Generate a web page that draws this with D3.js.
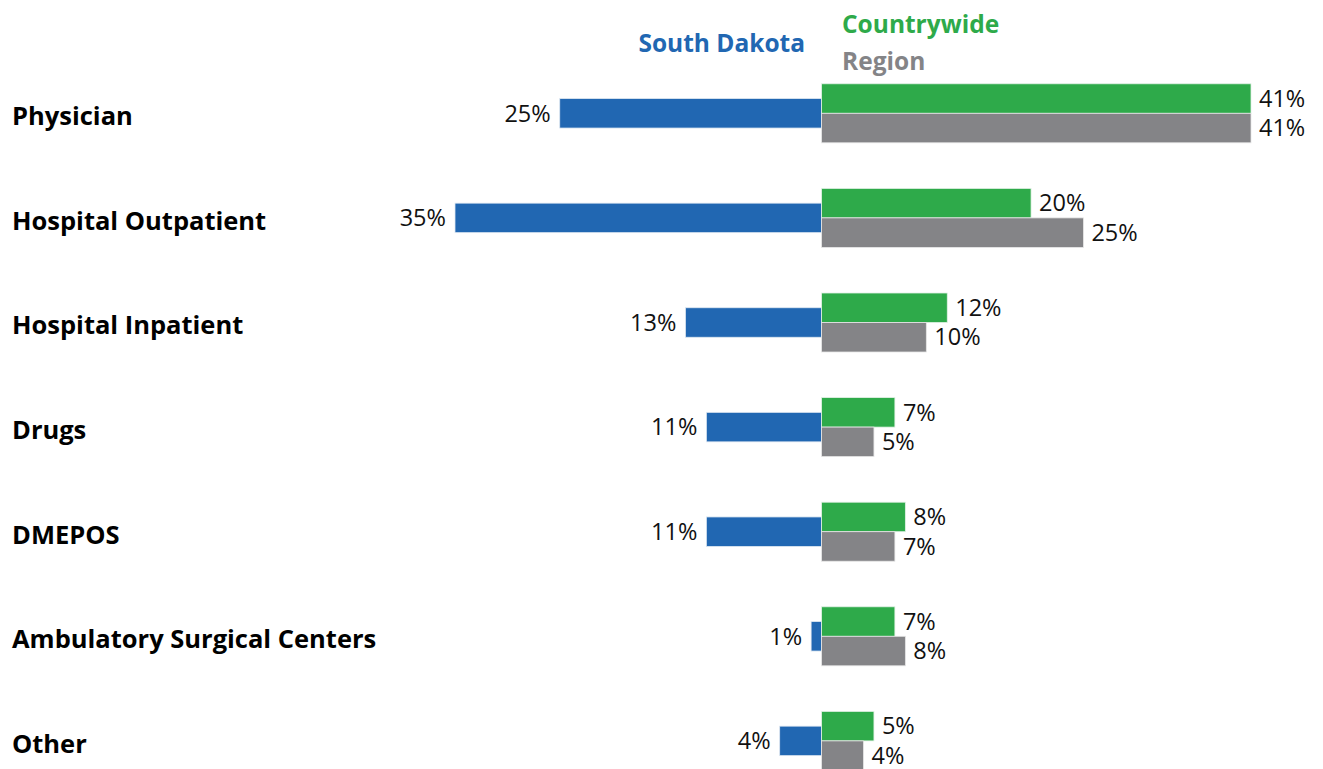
<html>
<head>
<script src="https://d3js.org/d3.v7.min.js"></script>
<style>
  body { margin: 0; background: #fff; }
  text { font-family: "Open Sans", Lato, sans-serif; }
</style>
</head>
<body>
<script>
const categories = ['Physician', 'Hospital Outpatient', 'Hospital Inpatient', 'Drugs', 'DMEPOS', 'Ambulatory Surgical Centers', 'Other'];
const southDakota = [25, 35, 13, 11, 11, 1, 4];
const countrywide = [41, 20, 12, 7, 8, 7, 5];
const region = [41, 25, 10, 5, 7, 8, 4];

const w = 1323, h = 769;
const blue = '#2167b2', green = '#2eaa4a', gray = '#848487';

const svg = d3.select('body').append('svg')
  .attr('width', w)
  .attr('height', h);

// horizontal scale: SD to the left, comparisons to the right of a shared zero
const xScale = d3.scaleLinear().domain([-35, 41]).range([455, 1251]);
const yScale = d3.scaleBand().domain(categories).range([61, 61 + 7 * 104.6]).padding(0);
const barH = 29.5;
const x0 = xScale(0);

const rows = svg.selectAll('.row')
  .data(categories)
  .enter()
  .append('g')
  .attr('class', 'row')
  .attr('transform', d => 'translate(0,' + (yScale(d) + yScale.bandwidth() / 2) + ')');

// category labels
rows.append('text')
  .attr('x', 12)
  .attr('y', 3)
  .attr('dy', '0.35em')
  .style('font-size', '25.5px')
  .style('font-weight', 'bold')
  .style('fill', '#000')
  .text(d => d);

// South Dakota bars
rows.append('rect')
  .attr('x', (d, i) => xScale(-southDakota[i]))
  .attr('y', -barH / 2)
  .attr('width', (d, i) => x0 - xScale(-southDakota[i]))
  .attr('height', barH)
  .attr('fill', blue)
  .attr('stroke', '#dfe8f2')
  .attr('stroke-width', 0.8);

rows.append('text')
  .attr('x', (d, i) => xScale(-southDakota[i]) - 9)
  .attr('y', 0)
  .attr('dy', '0.35em')
  .style('text-anchor', 'end')
  .style('font-size', '23.5px')
  .style('fill', '#111')
  .text((d, i) => southDakota[i] + '%');

// Countrywide bars
rows.append('rect')
  .attr('x', x0)
  .attr('y', -barH)
  .attr('width', (d, i) => xScale(countrywide[i]) - x0)
  .attr('height', barH)
  .attr('fill', green)
  .attr('stroke', '#e2f1e5')
  .attr('stroke-width', 0.8);

rows.append('text')
  .attr('x', (d, i) => xScale(countrywide[i]) + 8)
  .attr('y', -barH / 2)
  .attr('dy', '0.35em')
  .style('font-size', '23.5px')
  .style('fill', '#111')
  .text((d, i) => countrywide[i] + '%');

// Region bars
rows.append('rect')
  .attr('x', x0)
  .attr('y', 0)
  .attr('width', (d, i) => xScale(region[i]) - x0)
  .attr('height', barH)
  .attr('fill', gray)
  .attr('stroke', '#e6e6e6')
  .attr('stroke-width', 0.8);

rows.append('text')
  .attr('x', (d, i) => xScale(region[i]) + 8)
  .attr('y', barH / 2)
  .attr('dy', '0.35em')
  .style('font-size', '23.5px')
  .style('fill', '#111')
  .text((d, i) => region[i] + '%');

// legend
svg.append('text')
  .attr('x', 805).attr('y', 52)
  .style('text-anchor', 'end')
  .style('font-size', '24.5px').style('font-weight', 'bold')
  .style('fill', blue)
  .text('South Dakota');

svg.append('text')
  .attr('x', 842).attr('y', 33)
  .style('font-size', '24.5px').style('font-weight', 'bold')
  .style('fill', green)
  .text('Countrywide');

svg.append('text')
  .attr('x', 842).attr('y', 70)
  .style('font-size', '24.5px').style('font-weight', 'bold')
  .style('fill', gray)
  .text('Region');
</script>
</body>
</html>
